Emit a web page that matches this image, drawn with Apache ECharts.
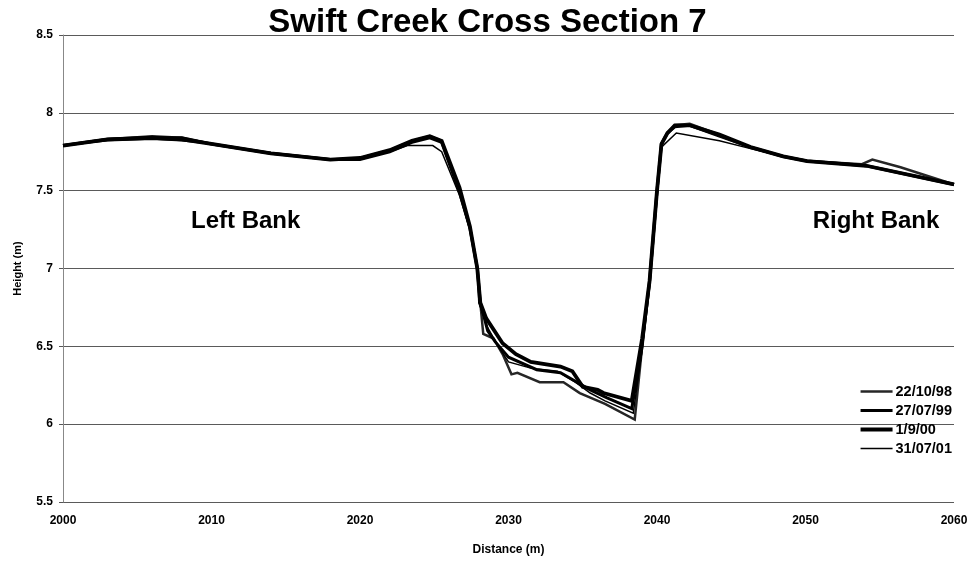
<!DOCTYPE html>
<html>
<head>
<meta charset="utf-8">
<script src="https://cdn.jsdelivr.net/npm/echarts@6/dist/echarts.min.js"></script>
<style>html,body{margin:0;padding:0;background:#fff;}#c{width:975px;height:565px;}</style>
</head>
<body>
<div id="c"></div>
<script>
var seriesNames = ['22/10/98', '27/07/99', '1/9/00', '31/07/01'];
var xTicks = [2000, 2010, 2020, 2030, 2040, 2050, 2060];
var yTicks = [5.5, 6, 6.5, 7, 7.5, 8, 8.5];
var bankLabels = ['Left Bank', 'Right Bank'];
var bankDist = [2012.3, 2054.75];
var bankHeight = [7.30, 7.30];

var dist98 = [2000, 2003, 2006, 2008, 2010, 2014, 2018, 2020, 2022, 2023.5, 2024.7, 2025.5, 2026.7, 2027.4, 2027.9, 2028.1, 2028.3, 2029.0, 2029.6, 2030.2, 2030.6, 2032.1, 2033.7, 2034.8, 2036.5, 2038.5, 2039.0, 2039.5, 2040.0, 2040.3, 2040.7, 2041.2, 2042.2, 2044.2, 2046.3, 2048.5, 2050.1, 2053.8, 2054.5, 2056.4, 2060];
var h98 =    [7.79, 7.83, 7.85, 7.84, 7.80, 7.74, 7.70, 7.71, 7.76, 7.82, 7.85, 7.82, 7.50, 7.27, 7.00, 6.78, 6.58, 6.55, 6.45, 6.32, 6.33, 6.27, 6.27, 6.20, 6.13, 6.03, 6.50, 6.90, 7.48, 7.80, 7.87, 7.92, 7.93, 7.86, 7.78, 7.72, 7.69, 7.67, 7.70, 7.65, 7.54];

var dist99 = [2000, 2003, 2006, 2008, 2010, 2014, 2018, 2020, 2022, 2023.5, 2024.7, 2025.5, 2026.7, 2027.4, 2027.9, 2028.1, 2028.6, 2029.1, 2030.0, 2031.9, 2033.5, 2035.5, 2036.6, 2038.3, 2039.0, 2039.5, 2040.0, 2040.3, 2040.7, 2041.2, 2042.2, 2044.2, 2046.3, 2048.5, 2050.1, 2054.1, 2060];
var h99 =    [7.79, 7.83, 7.84, 7.84, 7.80, 7.74, 7.70, 7.70, 7.75, 7.81, 7.84, 7.81, 7.49, 7.26, 7.00, 6.78, 6.60, 6.53, 6.43, 6.35, 6.33, 6.22, 6.17, 6.10, 6.50, 6.92, 7.50, 7.80, 7.87, 7.91, 7.92, 7.85, 7.78, 7.72, 7.69, 7.66, 7.54];

var dist00 = [2000, 2003, 2006, 2008, 2010, 2014, 2018, 2020, 2022, 2023.5, 2024.7, 2025.5, 2026.7, 2027.4, 2027.9, 2028.1, 2028.5, 2029.6, 2030.5, 2031.5, 2033.5, 2034.3, 2035.0, 2036.0, 2036.4, 2038.3, 2039.0, 2039.5, 2040.0, 2040.3, 2040.7, 2041.2, 2042.2, 2044.2, 2046.3, 2048.5, 2050.1, 2054.1, 2060];
var h00 =    [7.79, 7.83, 7.84, 7.83, 7.80, 7.74, 7.70, 7.71, 7.76, 7.82, 7.85, 7.82, 7.52, 7.27, 7.00, 6.78, 6.68, 6.52, 6.45, 6.40, 6.37, 6.34, 6.24, 6.22, 6.20, 6.15, 6.55, 6.92, 7.50, 7.80, 7.87, 7.92, 7.92, 7.86, 7.78, 7.72, 7.69, 7.66, 7.54];

var dist01 = [2000, 2003, 2006, 2008, 2010, 2014, 2018, 2020, 2022, 2023.2, 2024.9, 2025.5, 2026.7, 2027.4, 2027.9, 2028.0, 2028.6, 2029.3, 2030.0, 2031.5, 2033.3, 2034.5, 2035.5, 2036.5, 2038.4, 2039.0, 2039.5, 2040.0, 2040.3, 2041.3, 2044.2, 2046.3, 2048.5, 2050.1, 2054.1, 2060];
var h01 =    [7.79, 7.82, 7.83, 7.82, 7.80, 7.74, 7.70, 7.70, 7.75, 7.79, 7.79, 7.75, 7.47, 7.25, 7.00, 6.78, 6.62, 6.50, 6.40, 6.36, 6.34, 6.27, 6.20, 6.15, 6.07, 6.48, 6.90, 7.46, 7.78, 7.87, 7.82, 7.77, 7.72, 7.69, 7.66, 7.54];

function pairs(xs, ys) { return xs.map(function (x, i) { return [x, ys[i]]; }); }

var FONT = '"Liberation Sans", Arial, sans-serif';
var chart = echarts.init(document.getElementById('c'), null, {renderer: 'canvas'});
var widths = [2.5, 3, 3.8, 1.5];
var colors = ['#262626', '#000', '#000', '#000'];
var dataSets = [pairs(dist98, h98), pairs(dist99, h99), pairs(dist00, h00), pairs(dist01, h01)];

chart.setOption({
  animation: false,
  backgroundColor: '#fff',
  title: {
    text: 'Swift Creek Cross Section 7',
    left: 'center', top: 1,
    textStyle: {fontFamily: FONT, fontSize: 33, fontWeight: 'bold', color: '#000'}
  },
  grid: {left: 63, right: 21, top: 35, bottom: 63},
  legend: {
    orient: 'vertical', right: 18, top: 379,
    itemWidth: 32, itemHeight: 12, itemGap: 4,
    data: seriesNames.map(function (n, i) {
      return {name: n, icon: 'path://M0,0 L30,0 L30,' + widths[i] + ' L0,' + widths[i] + ' Z'};
    }),
    textStyle: {fontFamily: FONT, fontSize: 14.5, fontWeight: 'bold', color: '#000', padding: [0, 0, 0, -2]}
  },
  xAxis: {
    type: 'value', min: 2000, max: 2060, interval: 10,
    name: 'Distance (m)', nameLocation: 'middle', nameGap: 42,
    nameTextStyle: {fontFamily: FONT, fontSize: 12, fontWeight: 'bold', color: '#000'},
    axisLine: {show: false},
    axisTick: {show: false},
    splitLine: {show: false},
    axisLabel: {fontFamily: FONT, fontSize: 12, fontWeight: 'bold', color: '#000', margin: 13,
      formatter: function (v) { return xTicks.indexOf(v) >= 0 ? String(v) : ''; }}
  },
  yAxis: {
    type: 'value', min: 5.5, max: 8.5, interval: 0.5,
    name: 'Height (m)', nameLocation: 'middle', nameGap: 40, nameRotate: 90,
    nameTextStyle: {fontFamily: FONT, fontSize: 11, fontWeight: 'bold', color: '#000'},
    axisLine: {show: true, lineStyle: {color: '#888', width: 1}},
    axisTick: {show: true, length: 4, lineStyle: {color: '#555'}},
    splitLine: {show: true, lineStyle: {color: '#5a5a5a', width: 1.2}},
    axisLabel: {fontFamily: FONT, fontSize: 12, fontWeight: 'bold', color: '#000', margin: 10,
      formatter: function (v) { return yTicks.indexOf(v) >= 0 ? String(v) : ''; }}
  },
  series: seriesNames.map(function (n, i) {
    var s = {
      name: n, type: 'line', data: dataSets[i], symbol: 'none',
      lineStyle: {width: widths[i], color: colors[i], join: 'miter'},
      itemStyle: {color: colors[i]}
    };
    if (i === 0) {
      s.markPoint = {
        symbol: 'rect', symbolSize: 0,
        data: bankLabels.map(function (b, k) {
          return {name: b, coord: [bankDist[k], bankHeight[k]], value: b};
        }),
        label: {show: true, position: 'inside', formatter: '{b}', fontFamily: FONT, fontSize: 24, fontWeight: 'bold', color: '#000'}
      };
    }
    return s;
  })
});
</script>
</body>
</html>
